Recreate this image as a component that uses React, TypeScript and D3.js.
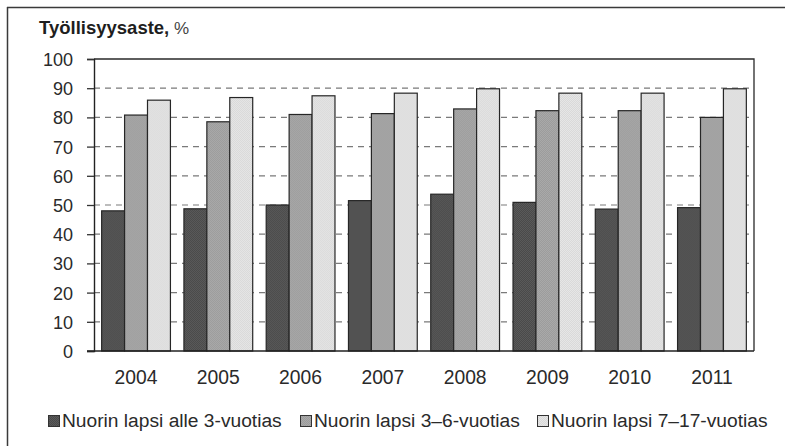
import React, { useEffect, useRef } from "react";
import * as d3 from "d3";

const years = ["2004", "2005", "2006", "2007", "2008", "2009", "2010", "2011"];
const seriesNames = [
  "Nuorin lapsi alle 3-vuotias",
  "Nuorin lapsi 3–6-vuotias",
  "Nuorin lapsi 7–17-vuotias",
];
const under3 = [48, 48.7, 50, 51.5, 53.7, 50.9, 48.6, 49.1];
const age3to6 = [80.8, 78.5, 81, 81.3, 82.9, 82.3, 82.3, 80];
const age7to17 = [85.9, 86.8, 87.4, 88.3, 89.8, 88.3, 88.3, 89.8];
const yTicks = [0, 10, 20, 30, 40, 50, 60, 70, 80, 90, 100];

const seriesValues = [under3, age3to6, age7to17];
const fills = [
  ["#5a5a5a", "#4a4a4a"],
  ["#a9a9a9", "#9c9c9c"],
  ["#e6e6e6", "#d9d9d9"],
];
const legendX = [48, 300, 537];
const FONT = "'Liberation Sans', Arial, sans-serif";

function App() {
  const ref = useRef<SVGSVGElement | null>(null);
  const width = 785;
  const height = 446;
  const plot = { left: 94, right: 754, top: 59, bottom: 351 };

  useEffect(() => {
    drawChart();
  }, []);

  function drawChart() {
    const svg = d3.select(ref.current);
    svg.selectAll("*").remove();

    // dithered fills, the original is a scanned print
    const defs = svg.append("defs");
    fills.forEach((pair, i) => {
      const p = defs
        .append("pattern")
        .attr("id", "fill" + i)
        .attr("width", 2)
        .attr("height", 2)
        .attr("patternUnits", "userSpaceOnUse");
      p.append("rect").attr("width", 2).attr("height", 2).attr("fill", pair[0]);
      p.append("rect").attr("width", 1).attr("height", 1).attr("fill", pair[1]);
      p.append("rect")
        .attr("x", 1)
        .attr("y", 1)
        .attr("width", 1)
        .attr("height", 1)
        .attr("fill", pair[1]);
    });

    // outer frame (left and top edges, the rest is cut off in the scan)
    svg
      .append("line")
      .attr("x1", 7.5)
      .attr("x2", 7.5)
      .attr("y1", 7)
      .attr("y2", height)
      .attr("stroke", "#3a3a3a")
      .attr("stroke-width", 1.5);
    svg
      .append("line")
      .attr("x1", 7)
      .attr("x2", width)
      .attr("y1", 7.5)
      .attr("y2", 7.5)
      .attr("stroke", "#3a3a3a")
      .attr("stroke-width", 1.5);

    const x = d3
      .scaleBand()
      .domain(years)
      .range([plot.left, plot.right])
      .paddingInner(0.164)
      .paddingOuter(0.093);

    const xInner = d3
      .scaleBand()
      .domain(seriesNames)
      .range([0, x.bandwidth()]);

    const y = d3
      .scaleLinear()
      .domain([0, 100])
      .range([plot.bottom, plot.top]);

    // dashed grid
    svg
      .append("g")
      .selectAll("line")
      .data(yTicks.filter((t) => t > 0 && t < 100))
      .enter()
      .append("line")
      .attr("x1", plot.left)
      .attr("x2", plot.right)
      .attr("y1", (d) => y(d))
      .attr("y2", (d) => y(d))
      .attr("stroke", "#7a7a7a")
      .attr("stroke-width", 1.2)
      .attr("stroke-dasharray", "6,5");

    // bars
    const groups = svg
      .append("g")
      .selectAll("g")
      .data(years)
      .enter()
      .append("g")
      .attr("transform", (d) => `translate(${x(d)},0)`);

    groups
      .selectAll("rect")
      .data((_, i) =>
        seriesNames.map((name, s) => ({ name, s, value: seriesValues[s][i] }))
      )
      .enter()
      .append("rect")
      .attr("x", (d) => xInner(d.name) as number)
      .attr("width", xInner.bandwidth())
      .attr("y", (d) => y(d.value))
      .attr("height", (d) => y(0) - y(d.value))
      .attr("fill", (d) => `url(#fill${d.s})`)
      .attr("stroke", "#262626")
      .attr("stroke-width", 1.2);

    // plot border top + right
    svg
      .append("path")
      .attr("d", `M${plot.left},${plot.top} H${plot.right} V${plot.bottom}`)
      .attr("fill", "none")
      .attr("stroke", "#2a2a2a")
      .attr("stroke-width", 1.3);

    // y axis
    const yAxis = svg
      .append("g")
      .attr("transform", `translate(${plot.left},0)`)
      .call(
        d3
          .axisLeft(y)
          .tickValues(yTicks)
          .tickSize(7)
          .tickPadding(14)
          .tickFormat(d3.format("d"))
      );
    yAxis.select(".domain").attr("stroke", "#222").attr("stroke-width", 1.4);
    yAxis.selectAll(".tick line").attr("stroke", "#333").attr("stroke-width", 1.3);
    yAxis
      .selectAll(".tick text")
      .attr("font-family", FONT)
      .attr("font-size", 18)
      .attr("fill", "#2a2a2a")
      .attr("dy", "0.36em");

    // x axis
    svg
      .append("line")
      .attr("x1", plot.left - 7)
      .attr("x2", plot.right)
      .attr("y1", plot.bottom)
      .attr("y2", plot.bottom)
      .attr("stroke", "#222")
      .attr("stroke-width", 1.4);

    // year labels are a bit narrow and tall in the scan
    svg
      .append("g")
      .selectAll("text")
      .data(years)
      .enter()
      .append("text")
      .attr(
        "transform",
        (d) => `translate(${(x(d) as number) + x.bandwidth() / 2},383.5) scale(0.92,1)`
      )
      .attr("text-anchor", "middle")
      .attr("font-family", FONT)
      .attr("font-size", 21)
      .attr("fill", "#2a2a2a")
      .text((d) => d);

    // title
    const title = svg
      .append("text")
      .attr("x", 39)
      .attr("y", 34)
      .attr("font-family", FONT)
      .attr("font-size", 18.5)
      .attr("fill", "#1e1e1e");
    title.append("tspan").attr("font-weight", "bold").text("Työllisyysaste,");
    title.append("tspan").attr("font-size", 17).attr("fill", "#444").text(" %");

    // legend
    const legend = svg
      .append("g")
      .selectAll("g")
      .data(seriesNames)
      .enter()
      .append("g")
      .attr("transform", (_, i) => `translate(${legendX[i]},0)`);

    legend
      .append("rect")
      .attr("x", 0.5)
      .attr("y", 415.5)
      .attr("width", 11)
      .attr("height", 11)
      .attr("fill", (_, i) => `url(#fill${i})`)
      .attr("stroke", "#333")
      .attr("stroke-width", 1);

    legend
      .append("text")
      .attr("x", 14)
      .attr("y", 427)
      .attr("font-family", FONT)
      .attr("font-size", 19.2)
      .attr("fill", "#2a2a2a")
      .text((d) => d);
  }

  return (
    <svg
      ref={ref}
      width={width}
      height={height}
      style={{ position: "absolute", left: 0, top: 0, display: "block" }}
    />
  );
}

export default App;
